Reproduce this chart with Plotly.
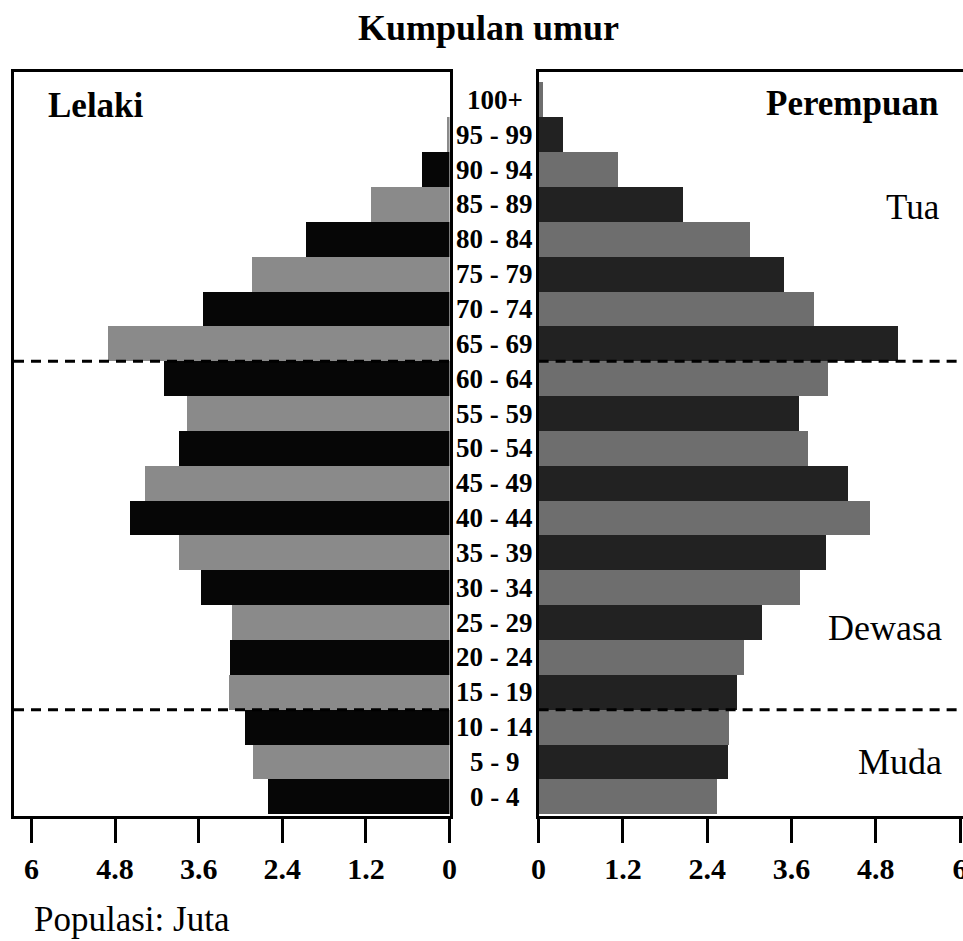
import plotly.graph_objects as go

# ---------------- data ----------------
age_groups = ["0 - 4", "5 - 9", "10 - 14", "15 - 19", "20 - 24", "25 - 29", "30 - 34",
              "35 - 39", "40 - 44", "45 - 49", "50 - 54", "55 - 59", "60 - 64", "65 - 69",
              "70 - 74", "75 - 79", "80 - 84", "85 - 89", "90 - 94", "95 - 99", "100+"]
male = [2.61, 2.82, 2.94, 3.17, 3.15, 3.12, 3.57, 3.88, 4.58, 4.37, 3.88, 3.77, 4.10,
        4.90, 3.54, 2.84, 2.06, 1.12, 0.40, 0.04, 0.0]
female = [2.54, 2.69, 2.71, 2.82, 2.92, 3.18, 3.72, 4.08, 4.71, 4.40, 3.83, 3.70, 4.11,
          5.11, 3.91, 3.49, 3.00, 2.05, 1.12, 0.34, 0.06]
tick_vals = [0, 1.2, 2.4, 3.6, 4.8, 6]
tick_text = ["0", "1.2", "2.4", "3.6", "4.8", "6"]
group_bounds = [2.5, 12.5]  # Muda / Dewasa / Tua boundaries (between age groups)

# ---------------- layout geometry ----------------
W, H = 972, 941
ML, MR, MT, MB = 14, 0, 72, 941 - 816
PW, PH = W - ML - MR, H - MT - MB
FONT = "Liberation Serif"
SX = W / 963.0


def px(x):
    return (x * SX - ML) / PW


def py(y):
    return (H - MB - y) / PH


idx = list(range(len(age_groups)))
male_colors = ["#060606" if i % 2 == 0 else "#8a8a8a" for i in idx]
female_colors = ["#6e6e6e" if i % 2 == 0 else "#222222" for i in idx]

fig = go.Figure()
fig.add_trace(go.Bar(x=male, y=idx, orientation="h", marker=dict(color=male_colors, line_width=0),
                     xaxis="x", yaxis="y", showlegend=False, hoverinfo="x"))
fig.add_trace(go.Bar(x=female, y=idx, orientation="h", marker=dict(color=female_colors, line_width=0),
                     xaxis="x2", yaxis="y2", showlegend=False, hoverinfo="x"))

axis_common = dict(showgrid=False, zeroline=False, showline=True, linecolor="black", linewidth=3,
                   ticks="outside", ticklen=24, tickwidth=3, tickcolor="black",
                   tickvals=tick_vals, ticktext=tick_text,
                   tickfont=dict(family=FONT, size=30, color="black", weight="bold"))

fig.update_layout(
    width=W, height=H,
    margin=dict(l=ML, r=MR, t=MT, b=MB),
    paper_bgcolor="white", plot_bgcolor="white",
    bargap=0,
    xaxis=dict(domain=[0, px(449)], range=[6.25, 0], anchor="y", mirror=True, **axis_common),
    xaxis2=dict(domain=[px(538), 1], range=[0, 6.057 * (W - 538 * SX) / (963 - 538) / SX],
                anchor="y2", mirror=True, **axis_common),
    yaxis=dict(domain=[0, 1], range=[-0.55, 20.8], anchor="x", showline=True, mirror=True,
               linecolor="black", linewidth=3, showticklabels=False, ticks="",
               showgrid=False, zeroline=False),
    yaxis2=dict(domain=[0, 1], range=[-0.55, 20.8], anchor="x2", matches="y", showline=True,
                mirror=False, linecolor="black", linewidth=3, showticklabels=False, ticks="",
                showgrid=False, zeroline=False),
)

# dashed group boundaries
for b in group_bounds:
    for xr, yr in (("x domain", "y"), ("x2 domain", "y2")):
        fig.add_shape(type="line", xref=xr, yref=yr, x0=0, x1=1, y0=b, y1=b,
                      line=dict(color="black", width=3, dash="10px,7px"), layer="above")

# age group labels between the two panels
for i, lab in zip(idx, age_groups):
    fig.add_annotation(x=px(494), y=i, xref="paper", yref="y", text=lab, showarrow=False,
                       xanchor="center", yanchor="middle",
                       font=dict(family=FONT, size=27, color="black", weight="bold"))

texts = [
    ("Kumpulan umur", 488, 28, "center", "bold", 36),
    ("Lelaki", 46, 106, "left", "bold", 35),
    ("Perempuan", 939, 104, "right", "bold", 35),
    ("Tua", 941, 208, "right", "normal", 35),
    ("Dewasa", 943, 628, "right", "normal", 36),
    ("Muda", 943, 762, "right", "normal", 36),
    ("Populasi: Juta", 32, 920, "left", "normal", 35),
]
for t, x, y, xa, wt, sz in texts:
    fig.add_annotation(x=px(x), y=py(y), xref="paper", yref="paper", text=t, showarrow=False,
                       xanchor=xa, yanchor="middle",
                       font=dict(family=FONT, size=sz, color="black", weight=wt))

page_fix = (
    "document.documentElement.style.margin='0';"
    "document.body.style.margin='0';document.body.style.overflow='hidden';"
    "document.documentElement.style.overflow='hidden';"
)
fig.write_html("out.html", post_script=page_fix, config={"displayModeBar": False})
